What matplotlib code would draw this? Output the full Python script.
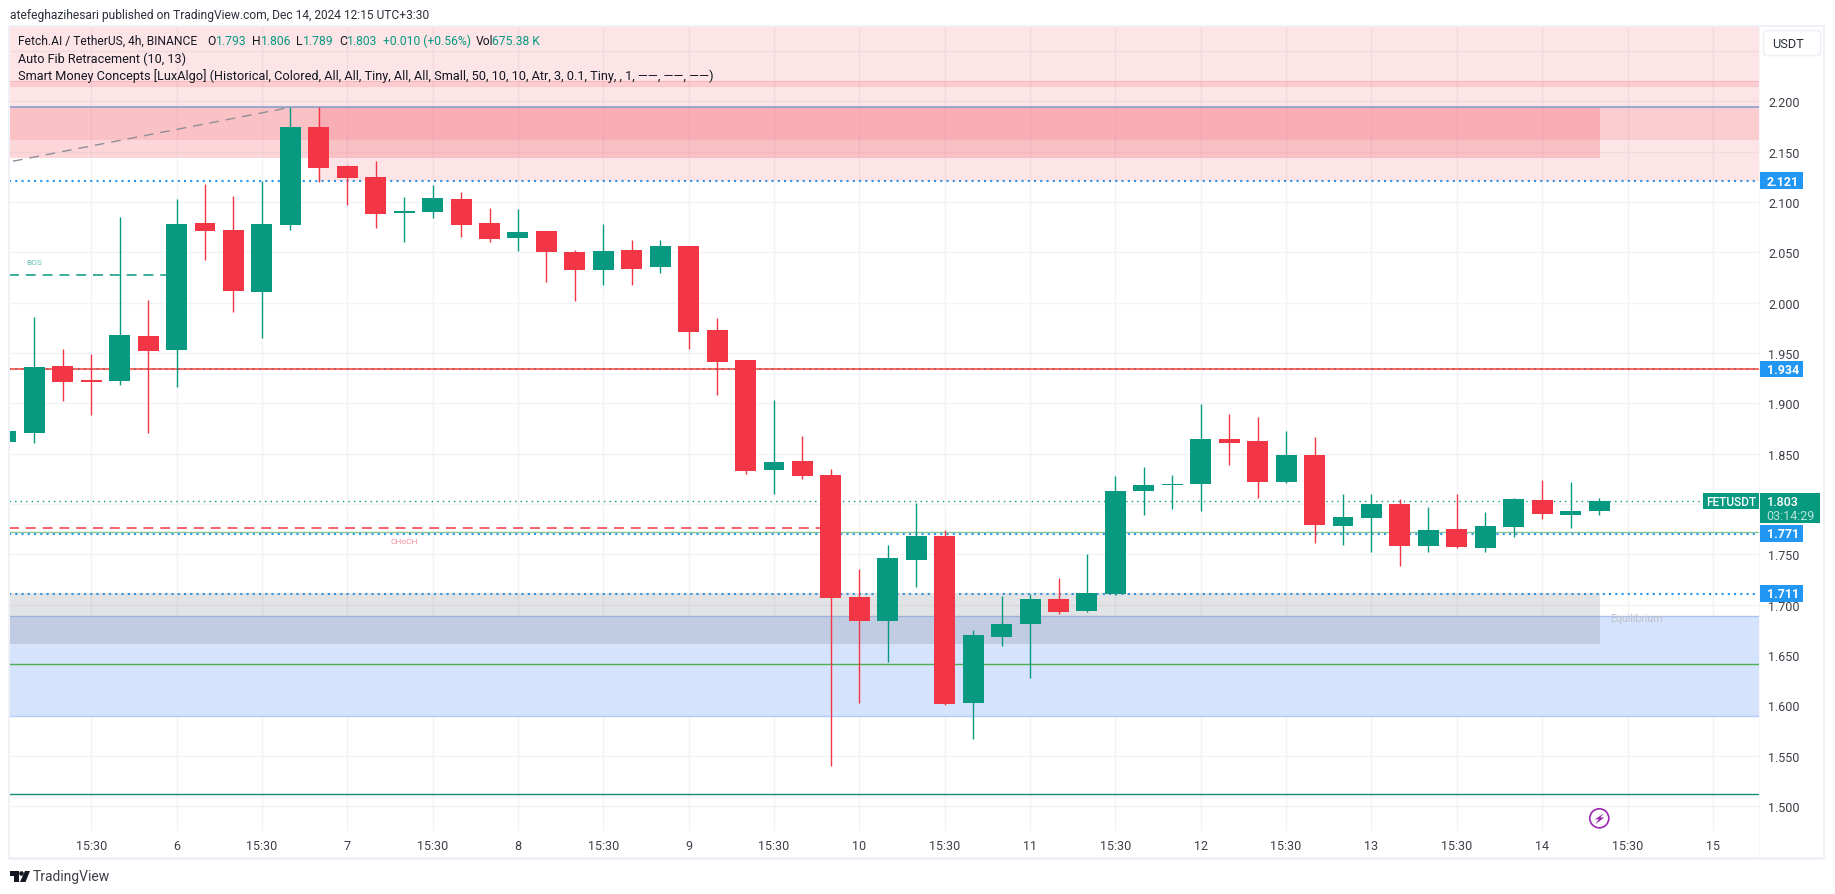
import matplotlib
matplotlib.use("Agg")
import matplotlib.pyplot as plt
from matplotlib.patches import Rectangle, Circle, Polygon, FancyBboxPatch
from matplotlib.transforms import IdentityTransform

W, H = 1835, 895
FONT = "Roboto"
plt.rcParams["font.family"] = [FONT, "DejaVu Sans"]

# ---- data ----
candle_index = list(range(-1, 56))
candle_open = [1.862, 1.870, 1.937, 1.923, 1.922, 1.967, 1.953, 2.079, 2.072, 2.011, 2.077, 2.174, 2.136, 2.125, 2.089,
               2.090, 2.103, 2.079, 2.064, 2.071, 2.050, 2.032, 2.052, 2.035, 2.056, 1.973, 1.943, 1.834, 1.843, 1.829,
               1.708, 1.684, 1.744, 1.768, 1.602, 1.668, 1.681, 1.706, 1.694, 1.711, 1.813, 1.819, 1.820, 1.865, 1.863,
               1.822, 1.849, 1.778, 1.786, 1.800, 1.758, 1.775, 1.756, 1.777, 1.804, 1.789, 1.793]
candle_high = [1.872, 1.986, 1.954, 1.949, 2.085, 2.003, 2.103, 2.118, 2.106, 2.121, 2.194, 2.194, 2.137, 2.141, 2.105,
               2.117, 2.110, 2.094, 2.093, 2.071, 2.052, 2.078, 2.062, 2.062, 2.056, 1.985, 1.943, 1.903, 1.868, 1.835,
               1.735, 1.759, 1.801, 1.774, 1.675, 1.709, 1.711, 1.726, 1.750, 1.828, 1.837, 1.829, 1.899, 1.889, 1.886,
               1.872, 1.867, 1.810, 1.810, 1.805, 1.797, 1.810, 1.792, 1.806, 1.824, 1.822, 1.806]
candle_low = [1.862, 1.861, 1.902, 1.888, 1.918, 1.870, 1.916, 2.042, 1.991, 1.965, 2.072, 2.120, 2.097, 2.074, 2.060,
              2.084, 2.065, 2.060, 2.051, 2.020, 2.002, 2.018, 2.018, 2.029, 1.954, 1.908, 1.830, 1.810, 1.825, 1.540,
              1.602, 1.643, 1.718, 1.600, 1.567, 1.659, 1.627, 1.691, 1.693, 1.710, 1.789, 1.795, 1.793, 1.839, 1.806,
              1.821, 1.761, 1.759, 1.752, 1.738, 1.752, 1.756, 1.752, 1.767, 1.785, 1.776, 1.789]
candle_close = [1.872, 1.936, 1.921, 1.921, 1.968, 1.952, 2.078, 2.071, 2.012, 2.078, 2.174, 2.134, 2.124, 2.088, 2.091,
                2.104, 2.077, 2.063, 2.070, 2.050, 2.032, 2.051, 2.033, 2.056, 1.971, 1.941, 1.833, 1.842, 1.828, 1.707,
                1.684, 1.746, 1.768, 1.601, 1.670, 1.681, 1.706, 1.693, 1.712, 1.813, 1.819, 1.820, 1.865, 1.861, 1.822,
                1.849, 1.779, 1.787, 1.800, 1.758, 1.774, 1.757, 1.778, 1.805, 1.790, 1.793, 1.803]

x_ticks = list(range(2, 60, 3))
x_labels = ["15:30", "6", "15:30", "7", "15:30", "8", "15:30", "9", "15:30", "10", "15:30", "11",
            "15:30", "12", "15:30", "13", "15:30", "14", "15:30", "15"]
y_ticks = [1.50, 1.55, 1.60, 1.65, 1.70, 1.75, 1.80, 1.85, 1.90, 1.95, 2.00, 2.05, 2.10, 2.15, 2.20, 2.25]
y_labels = ["1.500", "1.550", "1.600", "1.650", "1.700", "1.750", "", "1.850", "1.900", "1.950", "2.000",
            "2.050", "2.100", "2.150", "2.200", ""]

tag_levels = [2.121, 1.934, 1.771, 1.711]
tag_labels = ["2.121", "1.934", "1.771", "1.711"]
last_price = 1.803
red_level = 1.934
olive_level = 1.7725
ob_line = 2.194
green_level = 1.641
teal_level = 1.5116
bos_level = 2.027
choch_level = 1.776
fib_x = [-0.75, 9]
fib_y = [2.1405, 2.194]

GREEN, RED, BLUE = "#089981", "#F23645", "#2196F3"
TEXT = "#131722"

fig = plt.figure(figsize=(W / 100, H / 100), dpi=100, facecolor="white")
PL, PR, PT, PB = 9, 1759, 27, 832
ax = fig.add_axes([PL / W, 1 - PB / H, (PR - PL) / W, (PB - PT) / H])
ax.set_xlim((PL - 34.3) / 28.45, (PR - 34.3) / 28.45)
ax.set_ylim(2.3016 - PB / 1006.7, 2.3016 - PT / 1006.7)
for s in ax.spines.values():
    s.set_visible(False)

ax.set_axisbelow(True)
ax.grid(True, color="#f2f3f5", lw=1.0, zorder=0)
ax.yaxis.tick_right()
ax.set_yticks(y_ticks, y_labels)
ax.set_xticks(x_ticks, x_labels)
ax.tick_params(axis="y", length=0, pad=6.5, labelsize=9, labelcolor="#3c3f48")
ax.tick_params(axis="x", length=0, pad=5.5, labelsize=9, labelcolor="#3c3f48")

XL, XR = ax.get_xlim()
ZONE_END = 55.03
# blue dotted levels sit under the zones
for lv, off in zip(tag_levels, [0, 0.0005, -0.0007, 0]):
    ax.axhline(lv + off, color=BLUE, lw=1.5, ls=(0, (1, 2)), zorder=1)

# supply / demand zones
ax.axhspan(2.194, 2.30, color=RED, alpha=0.135, lw=0, zorder=2)
ax.fill_between([9.97, XR], 2.121, 2.194, color=RED, alpha=0.135, lw=0, zorder=2)
ax.axhspan(2.1625, 2.194, color=RED, alpha=0.13, lw=0, zorder=2)
ax.fill_between([XL, ZONE_END], 2.1436, 2.194, color=RED, alpha=0.20, lw=0, zorder=2)
ax.axhline(2.1625, color=RED, alpha=0.12, lw=0.8, zorder=2)
ax.axhspan(2.2155, 2.2202, color=RED, alpha=0.13, lw=0, zorder=2)
ax.axhline(2.2202, color=RED, alpha=0.15, lw=0.8, zorder=2)
ax.axhline(2.2155, color=RED, alpha=0.15, lw=0.8, zorder=2)
ax.axhline(ob_line, color="#7f9acb", lw=1.1, zorder=3)

ax.axhspan(1.5898, 1.6885, color="#d5e3fd", lw=0, zorder=2)
ax.axhline(1.6885, color="#a9c2ee", lw=1.0, zorder=2)
ax.axhline(1.5898, color="#b2cdfb", lw=1.0, zorder=2)
ax.fill_between([XL, ZONE_END], 1.6612, 1.712, color="#787b86", alpha=0.21, lw=0, zorder=2)

# horizontal levels
ax.axhline(red_level, color="#f44336", lw=1.1, zorder=3)
ax.axhline(olive_level, color="#8cc596", lw=1.0, zorder=3)
ax.axhline(green_level, color="#4caf50", lw=1.0, zorder=3)
ax.axhline(teal_level, color="#158a7c", lw=1.0, zorder=3)
ax.plot([XL, 58.65], [last_price, last_price], color=GREEN, lw=1.0, ls=(0, (1, 3)), zorder=3)
ax.plot([XL, 5], [bos_level, bos_level], color=GREEN, lw=1.1, ls=(0, (6.5, 4.5)), zorder=3)
ax.plot([XL, 28], [choch_level, choch_level], color=RED, lw=1.1, ls=(0, (6.5, 4.5)), zorder=3)
ax.plot(fib_x, fib_y, color="#8f8f96", lw=1.0, ls=(0, (7, 5)), zorder=3)
ax.text(0, 2.0405, "BOS", color="#66c2b3", fontsize=6, ha="center", va="center", zorder=3)
ax.text(13.0, 1.7635, "CHoCH", color="#f98f99", fontsize=6, ha="center", va="center", zorder=3)
ax.text(56.3, 1.6867, "Equilibrium", color="#bfc1c8", fontsize=7.6, ha="center", va="center", zorder=3)

# candles
for k, o, h, l, c in zip(candle_index, candle_open, candle_high, candle_low, candle_close):
    col = GREEN if c >= o else RED
    ax.vlines(k, l, h, color=col, lw=1.0, zorder=5)
    ax.bar(k, abs(c - o), bottom=min(o, c), width=0.738, color=col, lw=0, zorder=6)

# price tags on the scale
ytr = ax.get_yaxis_transform()
fx = lambda px: (px - PL) / (PR - PL)
for lv, lb in zip(tag_levels, tag_labels):
    ax.add_patch(Rectangle((fx(1760), lv - 0.0083), fx(1803) - fx(1760), 0.0166, transform=ytr, color=BLUE,
                           lw=0, clip_on=False, zorder=8))
    ax.text(fx(1782.7), lv - 0.0002, lb, transform=ytr, color="white", fontsize=9, fontweight="bold",
            ha="center", va="center", clip_on=False, zorder=9)
ax.add_patch(Rectangle((fx(1703.3), last_price - 0.0083), fx(1759) - fx(1703.3), 0.0166, transform=ytr, color=GREEN,
                       lw=0, clip_on=False, zorder=8))
ax.text(fx(1731), last_price - 0.0002, "FETUSDT", transform=ytr, color="white", fontsize=8.6, fontweight="medium",
        ha="center", va="center", clip_on=False, zorder=9)
ax.add_patch(Rectangle((fx(1760), last_price - 0.0222), fx(1820) - fx(1760), 0.0305, transform=ytr, color=GREEN,
                       lw=0, clip_on=False, zorder=8))
ax.text(fx(1782.7), last_price - 0.0002, "1.803", transform=ytr, color="white", fontsize=9, fontweight="medium",
        ha="center", va="center", clip_on=False, zorder=9)
ax.text(fx(1790), last_price - 0.0145, "03:14:29", transform=ytr, color="#b5e3d9", fontsize=9,
        ha="center", va="center", clip_on=False, zorder=9)


# page furniture, placed in pixels
def P(x, y):
    return x / W, 1 - y / H


def T(x, y, s, color=TEXT, size=8.9, **kw):
    return fig.text(*P(x, y), s, color=color, fontsize=size, va="center", **kw)


def frame(x, y, w, h, color="#eff1f6"):
    fig.add_artist(Rectangle(P(x, y + h), w / W, h / H, transform=fig.transFigure, color=color, lw=0, zorder=20))


frame(8, 26, 1816, 1.6)
frame(8, 858, 1816, 2.6)
frame(8, 26, 1.6, 834)
frame(1759, 26, 1, 834, "#f5f6f9")
frame(1823, 26, 1.8, 834)

T(10, 15, "atefeghazihesari published on TradingView.com, Dec 14, 2024 12:15 UTC+3:30", size=8.65, color="#2a2e39")
T(18, 41.7, "Fetch.AI / TetherUS, 4h, BINANCE", size=8.65)
for x, s, c in [(207, "O", TEXT), (216, "1.793", GREEN), (252, "H", TEXT), (261, "1.806", GREEN), (296, "L", TEXT),
                (303, "1.789", GREEN), (339, "C", TEXT), (347, "1.803", GREEN), (383, "+0.010 (+0.56%)", GREEN),
                (475.5, "Vol", TEXT), (492, "675.38 K", GREEN)]:
    T(x, 41.7, s, color=c, size=8.7)
T(18, 59, "Auto Fib Retracement (10, 13)", size=9.1)
T(18, 76, "Smart Money Concepts [LuxAlgo] (Historical, Colored, All, All, Tiny, All, All, Small, 50, 10, 10, Atr, 3, "
          "0.1, Tiny, , 1, \u2014\u2014, \u2014\u2014, \u2014\u2014)", size=9.2)

# USDT button
fig.add_artist(FancyBboxPatch(P(1763.5, 56.5), 57 / W, 25 / H, boxstyle="round,pad=0,rounding_size=0.002",
                              transform=fig.transFigure, fc="white", ec="#eff1f6", lw=1.2, zorder=21,
                              mutation_aspect=2))
T(1788, 44, "USDT", size=9.2, ha="center", zorder=22, color="#2a2e39")

# lightning badge
idt = IdentityTransform()
cx, cy = 1599.3, H - 819.3
fig.add_artist(Circle((cx, cy), 9.5, transform=idt, fc="white", ec="#9c27b0", lw=1.2, zorder=21))
fig.add_artist(Polygon([(cx + 4.8, cy + 5), (cx - 4.5, cy - 1), (cx - 0.6, cy - 1), (cx - 4, cy - 6), (cx + 5, cy + 0.8),
                        (cx + 1, cy + 0.8)], transform=idt, fc="#9c27b0", ec="none", zorder=22))

# TradingView mark
bx, by = 10, H - 883
fig.add_artist(Polygon([(bx, by + 11), (bx + 9, by + 11), (bx + 9, by), (bx + 4, by), (bx + 4, by + 6), (bx, by + 6)],
                       transform=idt, fc="#131722", ec="none", zorder=22))
fig.add_artist(Circle((bx + 11.5, by + 8.5), 2.3, transform=idt, fc="#131722", ec="none", zorder=22))
fig.add_artist(Polygon([(bx + 15, by + 11), (bx + 20, by + 11), (bx + 15.5, by), (bx + 10, by)],
                       transform=idt, fc="#131722", ec="none", zorder=22))
T(33, 877, "TradingView", size=10, color="#3c3f48")

fig.savefig("out.png", dpi=100, facecolor="white")
